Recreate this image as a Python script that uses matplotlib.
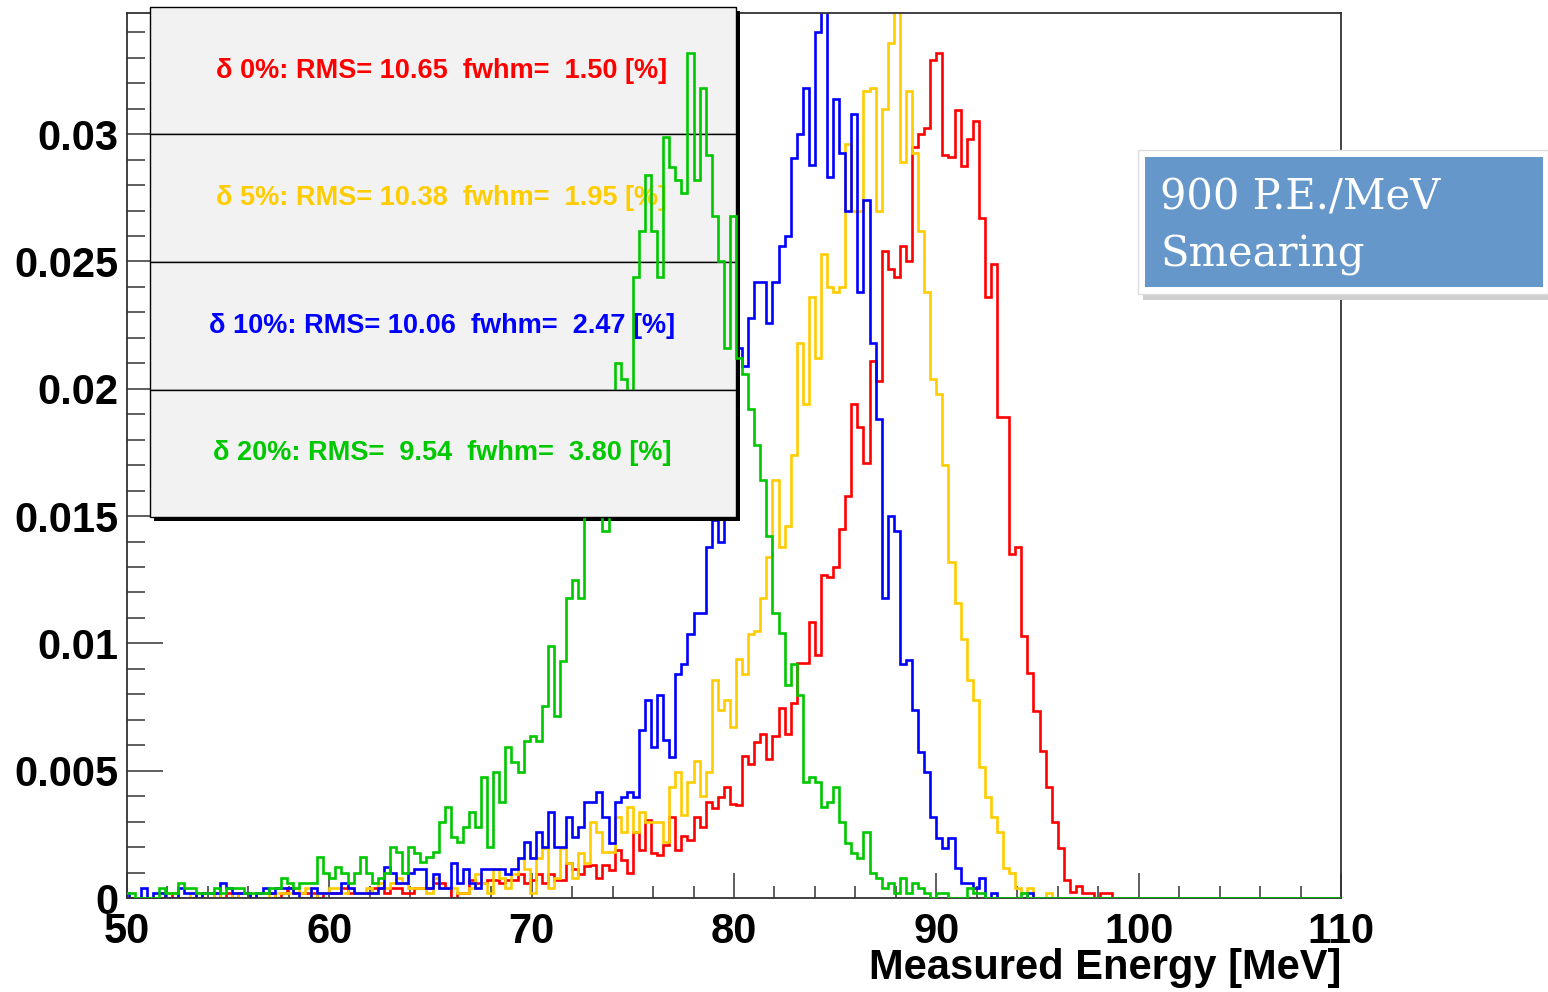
import matplotlib
matplotlib.use("Agg")
import matplotlib.pyplot as plt
import numpy as np
from matplotlib.patches import Rectangle
from matplotlib.ticker import MultipleLocator, FuncFormatter

plt.rcParams["font.family"] = ["Liberation Sans", "DejaVu Sans"]
plt.rcParams["font.weight"] = "bold"

# =========================================================================
# Data: bin contents in units of 1e-3, 0.3 MeV bins starting at 49.8 MeV
# =========================================================================

bin_start = 49.8
bin_width = 0.3
n_bins = 201

green = [
    0.2, 0.2, 0, 0, 0, 0, 0.4, 0.2, 0.2, 0.6,
    0.4, 0.4, 0.2, 0.2, 0.2, 0.4, 0.2, 0.4, 0.4, 0.4,
    0.2, 0.2, 0.2, 0.2, 0.4, 0.4, 0.8, 0.6, 0.4, 0.6,
    0.6, 0.6, 1.6, 1.0, 0.8, 1.2, 1.0, 0.6, 1.0, 1.6,
    1.0, 0.6, 0.8, 1.0, 2.0, 1.8, 1.0, 1.99, 1.78, 1.40,
    1.60, 1.79, 2.97, 3.56, 2.38, 2.19, 2.77, 3.36, 2.77, 4.76,
    1.99, 4.96, 3.76, 5.94, 5.35, 4.96, 6.18, 6.36, 6.18, 7.55,
    9.9, 7.16, 9.3, 11.8, 12.5, 11.8, 17.0, 17.0, 16.0, 14.4,
    17.0, 21.0, 20.4, 19.0, 24.4, 26.2, 28.4, 26.2, 24.4, 29.9,
    28.7, 28.2, 27.7, 33.2, 28.2, 31.8, 29.2, 26.8, 25.0, 21.6,
    26.8, 21.2, 20.6, 19.2, 17.8, 16.4, 14.2, 11.2, 10.4, 8.37,
    9.18, 7.97, 4.57, 4.77, 4.57, 3.59, 3.78, 4.37, 3.0, 2.15,
    1.75, 1.56, 2.58, 0.97, 0.77, 0.38, 0.58, 0.18, 0.77, 0.2,
    0.58, 0.38, 0.2, 0, 0.2, 0.2, 0, 0, 0, 0.38,
    0.2, 0.2, 0, 0, 0, 0, 0, 0, 0.2, 0,
    0, 0, 0, 0, 0, 0, 0, 0, 0, 0,
    0, 0, 0, 0, 0,
]

blue = [
    0.2, 0, 0, 0.4, 0, 0.2, 0.2, 0, 0, 0.4,
    0.2, 0.2, 0, 0.2, 0.2, 0.2, 0.6, 0.4, 0.2, 0.2,
    0.2, 0, 0.2, 0.4, 0.2, 0.4, 0.4, 0.4, 0.2, 0,
    0, 0.4, 0.2, 0.2, 0.2, 0.2, 0.6, 0.4, 0.2, 0.2,
    0.2, 0.2, 0.4, 1.2, 1.0, 0.6, 0.6, 1.0, 1.14, 1.14,
    0.38, 0.94, 0.38, 0.38, 1.36, 0.58, 1.14, 0.58, 0.38, 1.14,
    1.14, 1.14, 1.14, 0.94, 1.14, 1.56, 2.19, 1.56, 2.58, 1.99,
    3.36, 1.99, 1.99, 3.17, 2.38, 2.77, 3.76, 3.76, 4.17, 3.19,
    2.17, 3.77, 3.97, 4.17, 3.97, 6.6, 7.78, 5.94, 7.97, 6.2,
    5.55, 8.78, 9.18, 10.36, 11.2, 11.2, 13.8, 14.85, 14.0, 18.0,
    20.5, 21.6, 20.9, 22.8, 24.2, 24.2, 22.6, 24.2, 25.6, 26.0,
    29.05, 30.0, 31.8, 28.8, 34.0, 35.5, 28.3, 31.4, 29.25, 27.0,
    30.8, 23.8, 27.4, 21.8, 18.8, 11.8, 15.0, 14.4, 9.18, 9.35,
    7.38, 5.75, 4.96, 3.17, 2.34, 1.95, 2.34, 1.19, 0.58, 0.58,
    0.38, 0.77, 0, 0.2, 0, 0, 0, 0, 0, 0.2,
    0, 0, 0, 0, 0, 0, 0, 0, 0, 0,
    0, 0, 0, 0, 0,
]

yellow = [
    0, 0, 0, 0, 0, 0, 0, 0.2, 0.2, 0,
    0, 0.2, 0.2, 0, 0, 0.2, 0, 0, 0.2, 0,
    0, 0, 0.2, 0.2, 0, 0.2, 0.2, 0.2, 0.4, 0.2,
    0.4, 0, 0.2, 0.2, 0.4, 0.4, 0.2, 0.4, 0.2, 0.2,
    0.4, 0.2, 0.6, 0.4, 0.6, 0.8, 0.6, 0.38, 0.38, 0.38,
    0.18, 0.77, 0.38, 0.38, 0.38, 0.18, 0.18, 0.38, 0.94, 0.58,
    0.18, 1.14, 0.77, 0.38, 0.94, 1.56, 1.14, 0.18, 1.56, 1.95,
    0.38, 0.77, 1.95, 1.36, 0.77, 1.75, 1.36, 2.97, 2.58, 1.82,
    1.82, 3.19, 2.6, 3.59, 2.6, 3.39, 3.0, 3.0, 3.0, 2.2,
    4.37, 4.96, 3.26, 4.57, 5.39, 4.0, 4.96, 8.56, 7.38, 7.78,
    6.73, 9.37, 8.78, 10.36, 10.5, 11.8, 13.4, 16.4, 13.8, 14.6,
    17.4, 21.8, 19.4, 23.6, 21.2, 25.3, 24.0, 23.8, 24.0, 29.6,
    27.0, 27.0, 31.7, 31.8, 27.0, 31.0, 33.6, 35.5, 28.9, 31.7,
    29.25, 26.2, 23.8, 20.4, 19.8, 17.0, 13.2, 11.6, 10.17, 8.56,
    7.78, 5.16, 3.98, 3.17, 2.58, 1.16, 0.98, 0.39, 0.2, 0.39,
    0, 0, 0.2, 0, 0, 0, 0, 0, 0, 0,
    0, 0, 0, 0, 0,
]

red = [
    0, 0, 0, 0, 0, 0, 0, 0, 0.2, 0,
    0, 0, 0.2, 0, 0, 0.2, 0, 0.2, 0, 0.2,
    0.2, 0, 0.2, 0.2, 0.2, 0, 0.2, 0.4, 0.2, 0.2,
    0.2, 0.2, 0, 0.2, 0.2, 0.2, 0.4, 0.2, 0.2, 0.2,
    0.2, 0.4, 0.4, 0.2, 0.4, 0.4, 0.2, 0.2, 0.38, 0.38,
    0.38, 0.58, 0.58, 0.38, 0, 0.18, 0.18, 0.7, 0.58, 0.58,
    0.7, 0.7, 0.58, 0.7, 0.7, 0.94, 0.58, 0.7, 0.94, 0.58,
    0.94, 0.7, 0.7, 1.36, 1.14, 0.94, 1.25, 1.3, 0.77, 1.3,
    1.1, 1.88, 1.49, 1.0, 2.6, 1.88, 3.06, 1.75, 1.69, 2.08,
    3.19, 1.88, 2.43, 2.28, 3.19, 2.8, 3.78, 3.52, 3.98, 4.37,
    3.68, 3.65, 5.58, 5.26, 6.14, 6.44, 5.45, 6.36, 7.45, 6.44,
    7.67, 9.24, 9.24, 10.85, 9.54, 12.7, 12.6, 13.0, 14.5, 15.8,
    19.4, 18.5, 17.1, 21.1, 20.3, 25.4, 24.7, 24.4, 25.6, 25.0,
    29.5, 30.0, 30.25, 32.9, 33.2, 29.2, 29.1, 30.95, 28.75, 29.8,
    30.5, 26.7, 23.6, 24.9, 18.9, 18.9, 13.5, 13.8, 10.3, 8.85,
    7.36, 5.79, 4.37, 2.97, 1.98, 0.71, 0.25, 0.47, 0.2, 0.2,
    0, 0.2, 0.2, 0, 0,
]

labels = [
    "\u03b4 0%: RMS= 10.65  fwhm=  1.50 [%]",
    "\u03b4 5%: RMS= 10.38  fwhm=  1.95 [%]",
    "\u03b4 10%: RMS= 10.06  fwhm=  2.47 [%]",
    "\u03b4 20%: RMS=  9.54  fwhm=  3.80 [%]",
]
colors = ["#ff0000", "#ffcc00", "#0000ff", "#00c800"]

W, H = 1548, 992


def fx(px):
    return px / W


def fy(py):
    return 1 - py / H


edges = bin_start + bin_width * np.arange(n_bins + 1)


def full(vals):
    v = np.zeros(n_bins)
    v[:len(vals)] = np.array(vals) * 1e-3
    return v


# =========================================================================
# Figure
# =========================================================================

fig = plt.figure(figsize=(W / 100, H / 100), dpi=100)
ax = fig.add_axes([fx(127), fy(898), fx(1341) - fx(127), fy(13) - fy(898)])

series = [red, yellow, blue, green]
zorders = [2, 2, 2, 4]
for vals, col, z in zip(series, colors, zorders):
    ax.stairs(full(vals), edges, color=col, lw=1.9, zorder=z)

ax.set_xlim(50, 110)
ax.set_ylim(0, 0.03476)

for s in ax.spines.values():
    s.set_linewidth(1.3)
    s.set_color("#333333")

ax.xaxis.set_major_locator(MultipleLocator(10))
ax.xaxis.set_minor_locator(MultipleLocator(2))
ax.yaxis.set_major_locator(MultipleLocator(0.005))
ax.yaxis.set_minor_locator(MultipleLocator(0.001))
ax.yaxis.set_major_formatter(FuncFormatter(lambda v, p: f"{v:g}"))
ax.xaxis.set_major_formatter(FuncFormatter(lambda v, p: f"{v:g}"))

ax.tick_params(axis="both", which="both", direction="in", width=1.1,
               color="#333333", labelsize=30)
ax.tick_params(axis="y", which="major", length=26, pad=6)
ax.tick_params(axis="y", which="minor", length=13)
ax.tick_params(axis="x", which="major", length=18, pad=10)
ax.tick_params(axis="x", which="minor", length=9)
ax.tick_params(top=False, right=False)

fig.text(fx(1341), fy(968), "Measured Energy [MeV]", ha="right",
         va="center", fontsize=30, fontweight="bold")

# =========================================================================
# Legend box (four stacked rows with a drop shadow)
# =========================================================================

rows = [7, 134, 262, 390, 517]
x0, x1 = 150, 736
shadow = Rectangle((fx(x0 + 4), fy(rows[-1] + 4)), fx(x1) - fx(x0),
                   fy(rows[0]) - fy(rows[-1]), transform=fig.transFigure,
                   facecolor="black", edgecolor="none", zorder=3,
                   clip_on=False)
ax.add_patch(shadow)
for i, (lab, col) in enumerate(zip(labels, colors)):
    top, bot = rows[i], rows[i + 1]
    z = 5 if i == 3 else 3
    r = Rectangle((fx(x0), fy(bot)), fx(x1) - fx(x0), fy(top) - fy(bot),
                  transform=fig.transFigure, facecolor="#f2f2f2",
                  edgecolor="black", lw=1.0, zorder=z, clip_on=False)
    ax.add_patch(r)
    ax.text(fx(442), fy((top + bot) / 2), lab, transform=fig.transFigure,
            ha="center", va="center", color=col, fontsize=19.5,
            fontweight="bold", zorder=z + 0.5, clip_on=False)

# =========================================================================
# Blue caption box
# =========================================================================

fig.patches.append(Rectangle((fx(1143), fy(300)), fx(1552) - fx(1143),
                             fy(153) - fy(300), transform=fig.transFigure,
                             facecolor="#cfcfcf", edgecolor="none"))
fig.patches.append(Rectangle((fx(1138), fy(294)), fx(1548) - fx(1138),
                             fy(150) - fy(294), transform=fig.transFigure,
                             facecolor="white", edgecolor="#dddddd"))
fig.patches.append(Rectangle((fx(1145), fy(287)), fx(1543) - fx(1145),
                             fy(157) - fy(287), transform=fig.transFigure,
                             facecolor="#6697ca", edgecolor="none"))
fig.text(fx(1160), fy(197), "900 P.E./MeV", color="white", fontsize=30,
         family="DejaVu Serif", fontweight="normal", va="center", ha="left")
fig.text(fx(1160), fy(255), "Smearing", color="white", fontsize=30,
         family="DejaVu Serif", fontweight="normal", va="center", ha="left")

fig.savefig("out.png", dpi=100)
